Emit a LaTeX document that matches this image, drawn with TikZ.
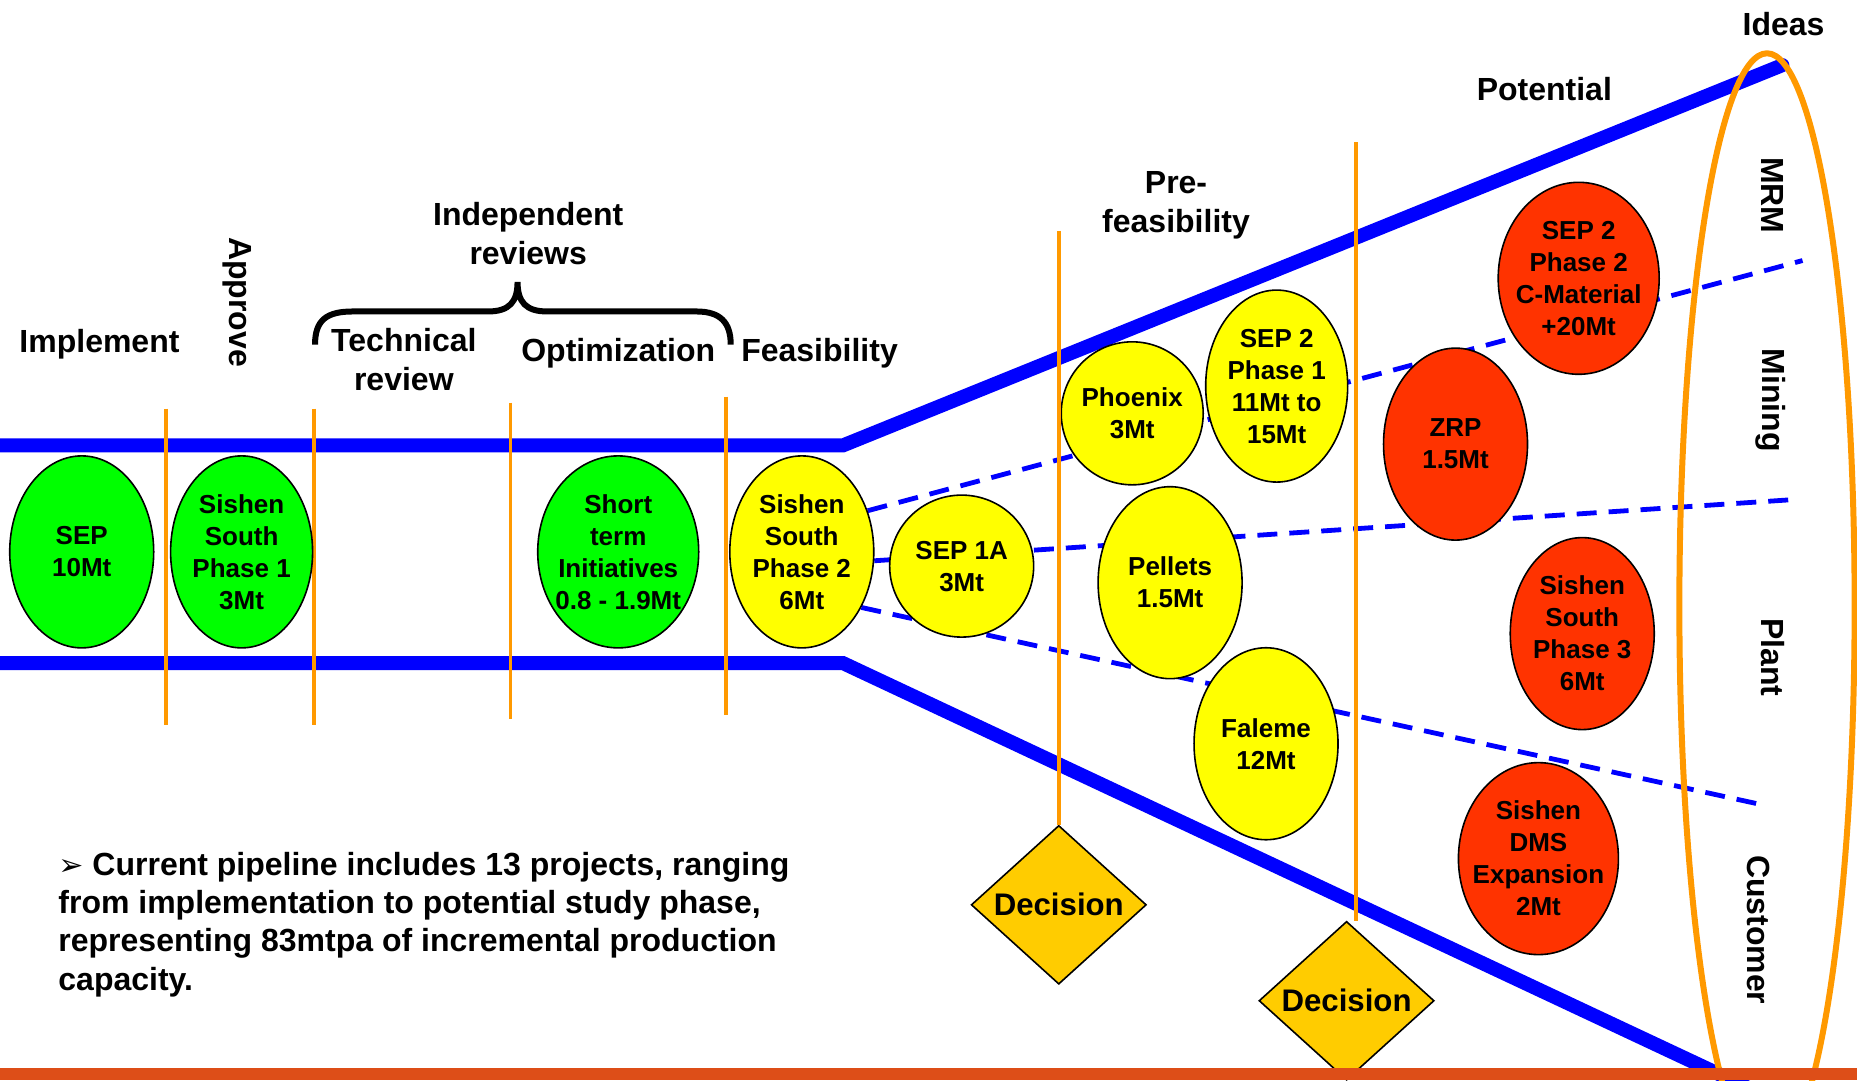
\documentclass[tikz,border=0pt]{standalone}
\usepackage{fontspec}
\setmainfont{Liberation Sans}
\newfontfamily\arrowfont{DejaVu Sans}
\usetikzlibrary{shapes.geometric}
\pgfdeclarelayer{back}
\pgfsetlayers{back,main}

\definecolor{pipeblue}{RGB}{0,0,255}
\definecolor{gateorange}{RGB}{255,153,0}
\definecolor{barorange}{RGB}{221,78,24}
\definecolor{donegreen}{RGB}{0,255,0}
\definecolor{studyyellow}{RGB}{255,255,0}
\definecolor{ideared}{RGB}{255,51,0}
\definecolor{decisiongold}{RGB}{255,204,0}

\tikzset{
	project/.style={ellipse, draw=black, line width=0.8pt, inner sep=-25pt, align=center,
		font=\fontsize{13}{16}\selectfont\bfseries, minimum width=72pt, minimum height=96pt},
	done/.style={project, fill=donegreen},
	study/.style={project, fill=studyyellow},
	idea/.style={project, fill=ideared},
	decision/.style={diamond, draw=black, line width=0.8pt, fill=decisiongold, inner sep=0pt,
		minimum width=87.6pt, minimum height=79.4pt, font=\fontsize{15.6}{18}\selectfont\bfseries},
	phase/.style={align=center, inner sep=0pt, font=\fontsize{16}{19.5}\selectfont\bfseries},
	area/.style={phase, rotate=-90},
	pipe/.style={line width=7pt, color=pipeblue, line cap=round},
	gate/.style={line width=1.8pt, color=gateorange},
	split/.style={line width=2.4pt, color=pipeblue, dash pattern=on 10pt off 6pt},
}

\begin{document}
\begin{tikzpicture}[x=0.5922pt, y=-0.5922pt]
		%%%%% START %%%%%
		\useasboundingbox (0, 0) rectangle (1568, 912);
		
		% funnel
		\draw[pipe] (-20, 376) -- (712, 376) -- (1505, 55);
		\draw[pipe] (-20, 560) -- (712, 560) -- (1475, 918);
		
		% ideas ring
		\draw[line width=3pt, color=gateorange] (1492, 512) ellipse (74 and 467);
		
		% gates in the pipe
		\draw[gate] (140, 345) -- (140, 612);
		\draw[gate] (265, 345) -- (265, 612);
		\draw[gate] (431, 340) -- (431, 607);
		\draw[gate] (613, 335) -- (613, 604);
		
		% projects
		\node[done, minimum width=72pt] (sep) at (69, 466) {SEP\\10Mt};
		\node[done, minimum width=71pt] (sishenA) at (204, 466) {Sishen\\South\\Phase 1\\3Mt};
		\node[done, minimum width=80.5pt] (shortterm) at (522, 466) {Short\\term\\Initiatives\\0.8 - 1.9Mt};
		\node[study] (sishenB) at (677, 466) {Sishen\\South\\Phase 2\\6Mt};
		\node[study, minimum height=71pt] (sepOneA) at (812, 478) {SEP 1A\\3Mt};
		\node[study, minimum width=71pt, minimum height=71.5pt] (phoenix) at (956, 349) {Phoenix\\3Mt};
		\node[study, minimum width=71pt] (sepTwoA) at (1078, 326) {SEP 2\\Phase 1\\11Mt to\\15Mt};
		\node[study] (pellets) at (988, 492) {Pellets\\1.5Mt};
		\node[study] (faleme) at (1069, 628) {Faleme\\12Mt};
		\node[idea] (zrp) at (1229, 375) {ZRP\\1.5Mt};
		\node[idea, minimum width=80.5pt] (sepTwoB) at (1333, 235) {SEP 2\\Phase 2\\C-Material\\+20Mt};
		\node[idea] (sishenC) at (1336, 535) {Sishen\\South\\Phase 3\\6Mt};
		\node[idea, minimum width=80pt] (dms) at (1299, 725) {Sishen\\DMS\\Expansion\\2Mt};
		
		% split lines behind the projects
		\coordinate (endA) at (1522, 220);
		\coordinate (endB) at (1512, 422);
		\coordinate (endC) at (1490, 680);
		\begin{pgfonlayer}{back}
			\draw[split] (sishenB.32) -- (endA);
			\draw[split] (sishenB.-7) -- (endB);
			\draw[split] (sishenB.-43) -- (endC);
		\end{pgfonlayer}
		
		% decision gates
		\node[decision] (decA) at (894, 764) {Decision};
		\node[decision] (decB) at (1137, 845) {Decision};
		\coordinate (gateA) at (894, 195);
		\coordinate (gateB) at (1145, 120);
		\draw[gate] (gateA) -- (decA.north);
		\draw[gate] (gateB) -- (gateB |- decB.north);
		
		% brace over the reviews
		\draw[line width=3pt] (266, 291) .. controls (266, 270) and (276, 263) .. (298, 263) -- (412, 263)
			.. controls (430, 263) and (437, 255) .. (437, 238)
			.. controls (437, 255) and (444, 263) .. (462, 263) -- (588, 263)
			.. controls (608, 263) and (617, 272) .. (617, 291);
		
		% phase labels
		\node[phase] (ideas) at (1506, 20) {Ideas};
		\node[phase] (potential) at (1304, 75) {Potential};
		\node[phase] (prefeas) at (993, 173) {Pre-\\feasibility};
		\node[phase] (indep) at (446, 197) {Independent\\reviews};
		\node[phase] (implement) at (84, 291) {Implement};
		\node[area] (approve) at (200, 255) {Approve};
		\node[phase] (technical) at (341, 304) {Technical\\review};
		\node[phase] (optim) at (522, 298) {Optimization};
		\node[phase] (feas) at (692, 298) {Feasibility};
		
		% source areas
		\node[area] (mrm) at (1497, 165) {MRM};
		\node[area] (mining) at (1495, 338) {Mining};
		\node[area] (plant) at (1497, 555) {Plant};
		\node[area] (customer) at (1485, 785) {Customer};
		
		% note
		\node[anchor=north west, align=left, inner sep=0pt, font=\fontsize{16}{19.2}\selectfont\bfseries] (note) at (49, 719)
			{{\arrowfont\fontsize{15}{19.2}\selectfont ➢} Current pipeline includes 13 projects, ranging\\
			from implementation to potential study phase,\\
			representing 83mtpa of incremental production\\
			capacity.};
		
		\fill[barorange] (0, 902) rectangle (1568, 912);
		%%%%% END %%%%%
\end{tikzpicture}
\end{document}
